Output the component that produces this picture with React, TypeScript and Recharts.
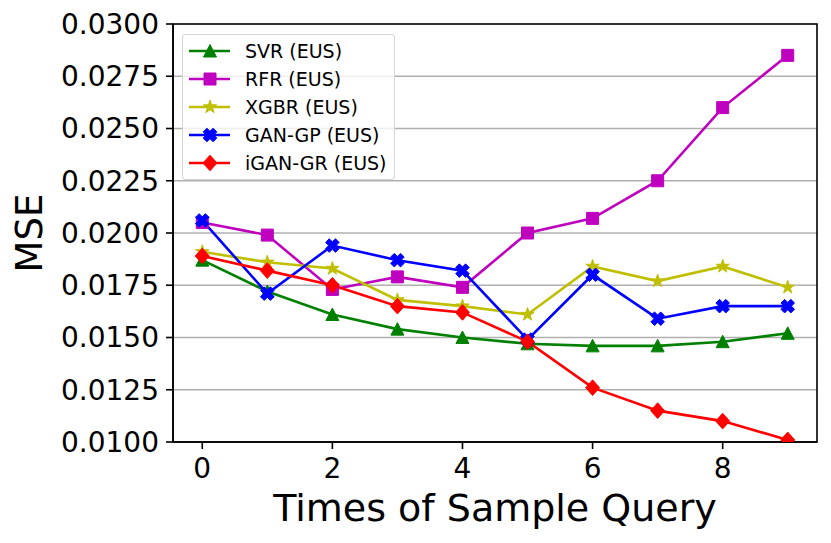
import React from "react";
import {
  LineChart,
  Line,
  XAxis,
  YAxis,
  CartesianGrid,
  Legend,
  ReferenceArea,
} from "recharts";

const queryTimes = [0, 1, 2, 3, 4, 5, 6, 7, 8, 9];
const svrValues = [0.0187, 0.0172, 0.0161, 0.0154, 0.015, 0.0147, 0.0146, 0.0146, 0.0148, 0.0152];
const rfrValues = [0.0205, 0.0199, 0.0173, 0.0179, 0.0174, 0.02, 0.0207, 0.0225, 0.026, 0.0285];
const xgbrValues = [0.0191, 0.0186, 0.0183, 0.0168, 0.0165, 0.0161, 0.0184, 0.0177, 0.0184, 0.0174];
const ganGpValues = [0.0206, 0.0171, 0.0194, 0.0187, 0.0182, 0.0149, 0.018, 0.0159, 0.0165, 0.0165];
const iganGrValues = [0.0189, 0.0182, 0.0175, 0.0165, 0.0162, 0.0148, 0.0126, 0.0115, 0.011, 0.0101];

const xTicks = [0, 2, 4, 6, 8];
const yTicks = [0.01, 0.0125, 0.015, 0.0175, 0.02, 0.0225, 0.025, 0.0275, 0.03];
const xDomain: [number, number] = [-0.45, 9.45];
const yDomain: [number, number] = [0.01, 0.03];

type Shape = "triangle" | "square" | "star" | "xfilled" | "diamond";

const seriesList: { key: string; name: string; color: string; shape: Shape; values: number[] }[] = [
  { key: "svr", name: "SVR (EUS)", color: "#008000", shape: "triangle", values: svrValues },
  { key: "rfr", name: "RFR (EUS)", color: "#bf00bf", shape: "square", values: rfrValues },
  { key: "xgbr", name: "XGBR (EUS)", color: "#bfbf00", shape: "star", values: xgbrValues },
  { key: "gangp", name: "GAN-GP (EUS)", color: "#0000ff", shape: "xfilled", values: ganGpValues },
  { key: "igangr", name: "iGAN-GR (EUS)", color: "#ff0000", shape: "diamond", values: iganGrValues },
];

const data = queryTimes.map((t, i) => {
  const row: Record<string, number> = { x: t };
  seriesList.forEach((s) => {
    row[s.key] = s.values[i];
  });
  return row;
});

const FONT = "DejaVu Sans";

function markerPath(shape: Shape, cx: number, cy: number): string {
  const pts: [number, number][] = [];
  if (shape === "triangle") {
    pts.push([cx, cy - 6.5], [cx - 6.5, cy + 6], [cx + 6.5, cy + 6]);
  } else if (shape === "square") {
    const h = 6;
    pts.push([cx - h, cy - h], [cx + h, cy - h], [cx + h, cy + h], [cx - h, cy + h]);
  } else if (shape === "diamond") {
    pts.push([cx, cy - 7.8], [cx + 7, cy], [cx, cy + 7.8], [cx - 7, cy]);
  } else if (shape === "star") {
    const R = 7;
    const r = R * 0.382;
    for (let i = 0; i < 10; i++) {
      const a = -Math.PI / 2 + (i * Math.PI) / 5;
      const rad = i % 2 === 0 ? R : r;
      pts.push([cx + rad * Math.cos(a), cy + rad * Math.sin(a)]);
    }
  } else {
    const L = 7;
    const t = 2.6;
    const base: [number, number][] = [
      [-t, -L], [t, -L], [t, -t], [L, -t], [L, t], [t, t],
      [t, L], [-t, L], [-t, t], [-L, t], [-L, -t], [-t, -t],
    ];
    const c = Math.SQRT1_2;
    base.forEach(([px, py]) => {
      pts.push([cx + (px * c - py * c), cy + (px * c + py * c)]);
    });
  }
  return "M" + pts.map((p) => `${p[0].toFixed(2)},${p[1].toFixed(2)}`).join("L") + "Z";
}

function makeDot(shape: Shape, color: string) {
  return (props: any) => {
    const { cx, cy, index } = props;
    if (cx == null || cy == null) return <g key={`d-${index}`} />;
    return <path key={`d-${index}`} d={markerPath(shape, cx, cy)} fill={color} stroke={color} strokeWidth={1} />;
  };
}

const LegendBox = () => (
  <div
    style={{
      width: 213,
      height: 146,
      boxSizing: "border-box",
      border: "1.3px solid rgba(204,204,204,0.8)",
      borderRadius: 4,
      background: "rgba(255,255,255,0.8)",
      position: "relative",
      fontFamily: FONT,
    }}
  >
    {seriesList.map((s, i) => (
      <div
        key={s.key}
        style={{ position: "absolute", left: 0, top: 2 + i * 27.9, height: 28, width: 213 }}
      >
        <svg width={60} height={28} style={{ position: "absolute", left: 0, top: 0 }}>
          <line x1={6} x2={47} y1={14} y2={14} stroke={s.color} strokeWidth={2.6} />
          <path d={markerPath(s.shape, 27, 14)} fill={s.color} stroke={s.color} strokeWidth={1} />
        </svg>
        <span
          style={{
            position: "absolute",
            left: 62,
            top: 0,
            lineHeight: "28px",
            fontSize: 19,
            color: "#000",
            whiteSpace: "nowrap",
          }}
        >
          {s.name}
        </span>
      </div>
    ))}
  </div>
);

export default function App() {
  return (
    <div style={{ position: "absolute", left: 0, top: 0, width: 831, height: 543, background: "#fff" }}>
      <LineChart
        width={831}
        height={543}
        data={data}
        margin={{ top: 24, right: 14, bottom: 0, left: 0 }}
      >
        <CartesianGrid vertical={false} stroke="#b0b0b0" strokeWidth={1.6} />
        <ReferenceArea
          x1={xDomain[0]}
          x2={xDomain[1]}
          y1={yDomain[0]}
          y2={yDomain[1]}
          fill="none"
          fillOpacity={0}
          stroke="#000"
          strokeWidth={1.6}
          ifOverflow="visible"
        />
        <XAxis
          dataKey="x"
          type="number"
          domain={xDomain}
          ticks={xTicks}
          allowDataOverflow
          height={101}
          stroke="#000"
          strokeWidth={1.6}
          tickSize={7}
          tickMargin={9}
          tick={{ fill: "#000", fontSize: 28, fontFamily: FONT }}
          label={{
            content: (p: any) => {
              const vb = p.viewBox || { x: 173, y: 442, width: 644, height: 101 };
              return (
                <text
                  x={vb.x + vb.width / 2}
                  y={vb.y + 79}
                  textAnchor="middle"
                  fontSize={38}
                  fontFamily={FONT}
                  fill="#000"
                >
                  Times of Sample Query
                </text>
              );
            },
          }}
        />
        <YAxis
          type="number"
          domain={yDomain}
          ticks={yTicks}
          allowDataOverflow
          width={173}
          stroke="#000"
          strokeWidth={1.6}
          tickSize={7}
          tickMargin={7}
          tickFormatter={(v: number) => v.toFixed(4)}
          tick={{ fill: "#000", fontSize: 28, fontFamily: FONT }}
          label={{
            content: (p: any) => {
              const vb = p.viewBox || { x: 0, y: 24, width: 173, height: 418 };
              const cx = vb.x + 29;
              const cy = vb.y + vb.height / 2;
              return (
                <text
                  x={cx}
                  y={cy}
                  transform={`rotate(-90, ${cx}, ${cy})`}
                  textAnchor="middle"
                  dominantBaseline="central"
                  fontSize={37}
                  fontFamily={FONT}
                  fill="#000"
                >
                  MSE
                </text>
              );
            },
          }}
        />
        {seriesList.map((s) => (
          <Line
            key={s.key}
            type="linear"
            dataKey={s.key}
            name={s.name}
            stroke={s.color}
            strokeWidth={2.6}
            dot={makeDot(s.shape, s.color)}
            activeDot={false}
            isAnimationActive={false}
          />
        ))}
        <Legend
          layout="vertical"
          align="center"
          verticalAlign="middle"
          content={() => <LegendBox />}
          wrapperStyle={{ left: 182, top: 34, width: 213, height: 146, margin: 0 }}
        />
      </LineChart>
    </div>
  );
}
